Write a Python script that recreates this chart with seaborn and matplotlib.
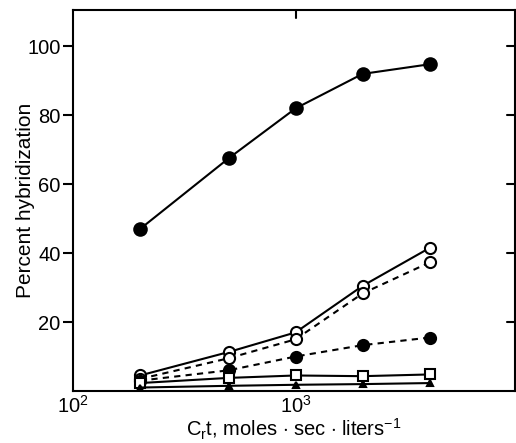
import numpy as np
import pandas as pd
import matplotlib
matplotlib.use("Agg")
import matplotlib.pyplot as plt
import seaborn as sns

# Crt values (moles sec liters^-1)
crt = [200, 500, 1000, 2000, 4000]

# percent hybridization for each curve
top_filled = [47, 67.5, 82, 92, 94.8]
open_solid = [4.5, 11.3, 17, 30.5, 41.5]
open_dashed = [3.5, 9.5, 15, 28.3, 37.3]
filled_dashed = [3, 6, 10, 13.3, 15.5]
squares = [2.3, 3.8, 4.5, 4.3, 4.8]
triangles = [1, 1.5, 1.8, 2, 2.3]

sns.set_style("ticks")
plt.rcParams['font.family'] = ['Liberation Sans', 'DejaVu Sans']
plt.rcParams['mathtext.fontset'] = 'custom'
plt.rcParams['mathtext.rm'] = 'Liberation Sans'
plt.rcParams['mathtext.it'] = 'Liberation Sans'
plt.rcParams['text.color'] = 'black'
plt.rcParams['axes.labelcolor'] = 'black'
plt.rcParams['xtick.color'] = 'black'
plt.rcParams['ytick.color'] = 'black'

fig = plt.figure(figsize=(5.16, 4.43), dpi=100)
ax = fig.add_axes([0.1415, 0.1174, 0.857, 0.8597])

series = [
    ("top", top_filled, "-", "o", "black", 9),
    ("open_solid", open_solid, "-", "o", "white", 8),
    ("open_dashed", open_dashed, (0, (3, 2.5)), "o", "white", 8),
    ("filled_dashed", filled_dashed, (0, (3, 2.5)), "o", "black", 8),
    ("squares", squares, "-", "s", "white", 7.5),
    ("triangles", triangles, "-", "^", "black", 5),
]

for name, vals, ls, mk, fc, ms in series:
    df = pd.DataFrame({"crt": crt, "pct": vals})
    sns.lineplot(data=df, x="crt", y="pct", ax=ax, color="black",
                 linestyle=ls, linewidth=1.5, marker=mk, markersize=ms,
                 markerfacecolor=fc, markeredgecolor="black",
                 markeredgewidth=1.5, zorder=3)

ax.set_xscale("log")
ax.set_xlim(100, 9700)
ax.set_ylim(0, 110.5)
ax.set_yticks([20, 40, 60, 80, 100])
ax.set_xticks([100, 1000])
ax.minorticks_off()

ax.tick_params(axis="y", which="both", direction="out", length=7, width=1.5,
               labelsize=14.5, right=False, pad=2, labelcolor="black")
ax.tick_params(axis="x", which="both", length=0, labelsize=14.5, pad=3,
               top=False, labelcolor="black")
# inward ticks on right side and top
for y in [20, 40, 60, 80, 100]:
    ax.plot([9700 / 10 ** 0.035, 9700], [y, y], color="black", lw=1.5,
            clip_on=False, zorder=4)
ax.plot([1000, 1000], [110.5, 108.3], color="black", lw=1.5, clip_on=False, zorder=4)

for sp in ax.spines.values():
    sp.set_linewidth(1.5)
    sp.set_color("black")
    sp.set_visible(True)

ax.set_xlabel(r"C$_{\mathrm{r}}$t, moles $\cdot$ sec $\cdot$ liters$^{-1}$",
              fontsize=14.5, va="top", color="black")
ax.xaxis.set_label_coords(0.5, -0.068)
ax.set_ylabel("Percent hybridization", fontsize=15, color="black")
ax.yaxis.set_label_coords(-0.085, 0.5)

fig.savefig("out.png", dpi=100)
